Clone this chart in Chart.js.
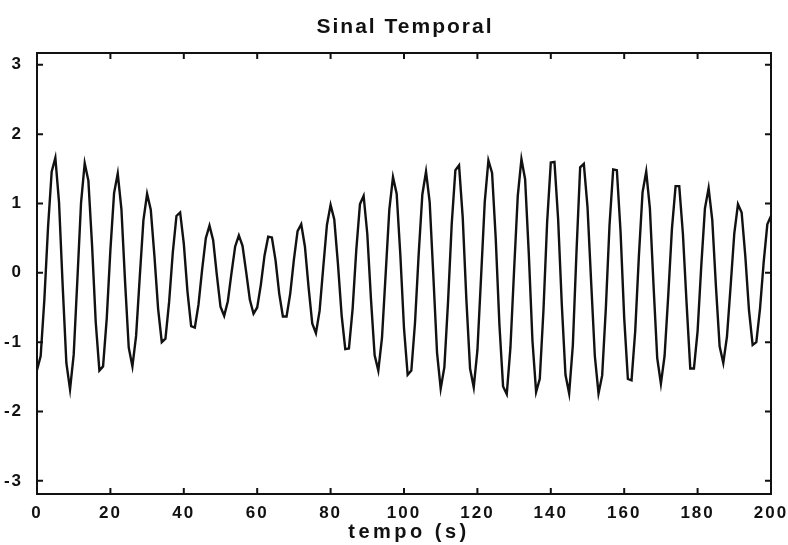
<!DOCTYPE html>
<html>
<head>
<meta charset="utf-8">
<script src="https://cdn.jsdelivr.net/npm/chart.js@4.4.1/dist/chart.umd.min.js"></script>
<style>
  html, body { margin: 0; padding: 0; background: #fff; }
  canvas { display: block; }
</style>
</head>
<body>
<canvas id="sinal" width="788" height="545"></canvas>
<script>
const signal = [
  -1.40, -1.20, -0.39, 0.65, 1.46, 1.66, 1.02, -0.19, -1.30, -1.68,
  -1.18, -0.10, 1.01, 1.58, 1.33, 0.40, -0.71, -1.41, -1.35, -0.66,
  0.33, 1.15, 1.43, 0.92, -0.13, -1.08, -1.35, -0.91, -0.06, 0.76,
  1.14, 0.91, 0.24, -0.52, -1.00, -0.95, -0.42, 0.29, 0.82, 0.87,
  0.42, -0.27, -0.77, -0.79, -0.46, 0.05, 0.50, 0.68, 0.47, -0.03,
  -0.49, -0.62, -0.41, 0.00, 0.38, 0.54, 0.39, 0.01, -0.39, -0.59,
  -0.50, -0.17, 0.25, 0.52, 0.51, 0.18, -0.30, -0.63, -0.63, -0.30,
  0.19, 0.60, 0.70, 0.38, -0.21, -0.73, -0.87, -0.55, 0.08, 0.69,
  0.98, 0.77, 0.13, -0.61, -1.10, -1.09, -0.52, 0.33, 0.99, 1.11,
  0.56, -0.38, -1.19, -1.41, -0.94, -0.02, 0.91, 1.38, 1.14, 0.26,
  -0.80, -1.47, -1.41, -0.72, 0.27, 1.13, 1.46, 1.02, -0.05, -1.15,
  -1.67, -1.36, -0.42, 0.70, 1.48, 1.55, 0.80, -0.39, -1.38, -1.65,
  -1.12, -0.06, 1.02, 1.62, 1.44, 0.49, -0.75, -1.64, -1.75, -1.08,
  0.04, 1.11, 1.64, 1.35, 0.28, -0.98, -1.72, -1.53, -0.54, 0.73,
  1.59, 1.60, 0.77, -0.46, -1.47, -1.74, -1.05, 0.30, 1.52, 1.57,
  0.95, -0.14, -1.20, -1.74, -1.48, -0.51, 0.69, 1.49, 1.48, 0.60,
  -0.65, -1.53, -1.55, -0.84, 0.24, 1.16, 1.46, 0.93, -0.19, -1.23,
  -1.60, -1.20, -0.33, 0.63, 1.25, 1.25, 0.56, -0.44, -1.38, -1.38,
  -0.84, 0.10, 0.93, 1.22, 0.76, -0.20, -1.06, -1.30, -0.92, -0.19,
  0.57, 0.99, 0.87, 0.24, -0.54, -1.04, -1.00, -0.52, 0.15, 0.70,
  0.82
];
const xTicks = [0, 20, 40, 60, 80, 100, 120, 140, 160, 180, 200];
const yTicks = [-3, -2, -1, 0, 1, 2, 3];

const points = signal.map((v, i) => ({ x: i, y: v }));
const FONT = '"Liberation Sans", Arial, sans-serif';

// moldura com marcas para dentro, estilo matlab, e os textos
const framePlugin = {
  id: 'frame',
  beforeDraw(chart) {
    chart.ctx.letterSpacing = '2px';
  },
  afterDraw(chart) {
    const { ctx, chartArea: a, scales } = chart;
    ctx.save();
    ctx.strokeStyle = '#111';
    ctx.lineWidth = 2;
    ctx.strokeRect(a.left, a.top, a.right - a.left, a.bottom - a.top);
    const len = 6;
    ctx.beginPath();
    xTicks.forEach(t => {
      const px = scales.x.getPixelForValue(t);
      ctx.moveTo(px, a.bottom); ctx.lineTo(px, a.bottom - len);
      ctx.moveTo(px, a.top); ctx.lineTo(px, a.top + len);
    });
    yTicks.forEach(t => {
      const py = scales.y.getPixelForValue(t);
      ctx.moveTo(a.left, py); ctx.lineTo(a.left + len, py);
      ctx.moveTo(a.right, py); ctx.lineTo(a.right - len, py);
    });
    ctx.stroke();

    const cx = (a.left + a.right) / 2;
    ctx.fillStyle = '#111';
    ctx.textAlign = 'center';
    ctx.textBaseline = 'alphabetic';

    ctx.letterSpacing = '2px';
    ctx.font = 'bold 21px ' + FONT;
    ctx.fillText('Sinal Temporal', cx + 1, 33);

    ctx.letterSpacing = '3.5px';
    ctx.font = 'bold 20px ' + FONT;
    ctx.fillText('tempo (s)', cx + 5, 538);
    ctx.restore();
    ctx.letterSpacing = '0px';
  }
};

const ctx = document.getElementById('sinal').getContext('2d');
const chart = new Chart(ctx, {
  type: 'line',
  data: {
    datasets: [{
      data: points,
      borderColor: '#111',
      borderWidth: 2.4,
      pointRadius: 0,
      tension: 0,
      fill: false
    }]
  },
  options: {
    responsive: false,
    animation: false,
    devicePixelRatio: 1,
    layout: { padding: { left: 0, right: 17, top: 53, bottom: 0 } },
    plugins: {
      legend: { display: false },
      tooltip: { enabled: false },
      title: { display: false }
    },
    scales: {
      x: {
        type: 'linear',
        min: 0,
        max: 200,
        grid: { display: false },
        border: { display: false },
        afterBuildTicks: s => { s.ticks = xTicks.map(v => ({ value: v })); },
        afterFit: s => { s.height = 51; s.paddingLeft = 0; s.paddingRight = 0; },
        ticks: {
          color: '#111',
          padding: 1,
          maxRotation: 0,
          font: { family: FONT, size: 17, weight: 'bold' }
        }
      },
      y: {
        min: -3.19,
        max: 3.17,
        grid: { display: false },
        border: { display: false },
        afterBuildTicks: s => { s.ticks = yTicks.map(v => ({ value: v })); },
        afterFit: s => { s.width = 37; s.paddingTop = 0; s.paddingBottom = 0; },
        ticks: {
          color: '#111',
          padding: 6,
          font: { family: FONT, size: 17, weight: 'bold' }
        }
      }
    }
  },
  plugins: [framePlugin]
});
</script>
</body>
</html>
